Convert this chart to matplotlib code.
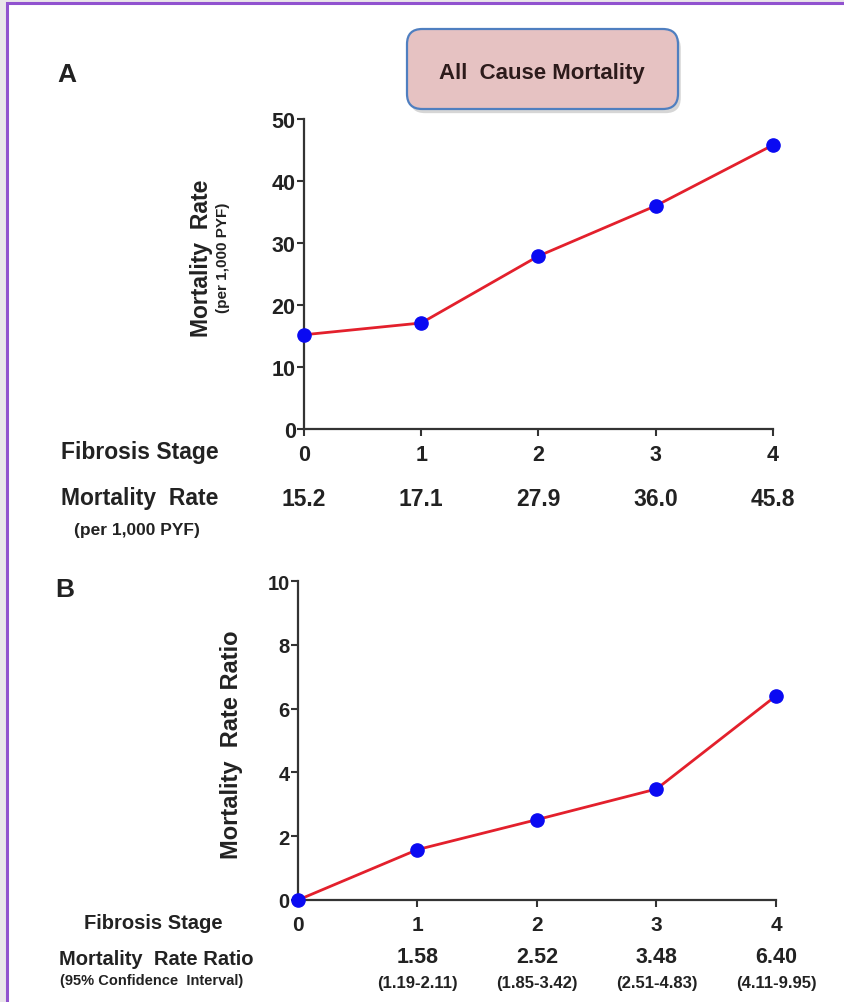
import matplotlib
matplotlib.use("Agg")
import matplotlib.pyplot as plt
import matplotlib.transforms as mtransforms
from matplotlib import font_manager
from matplotlib.patches import FancyBboxPatch, Rectangle
import matplotlib.patheffects as pe

# ---- data -------------------------------------------------------------
stages = [0, 1, 2, 3, 4]
mortality_rate = [15.2, 17.1, 27.9, 36.0, 45.8]          # per 1,000 PYF
rate_ratio = [0.0, 1.58, 2.52, 3.48, 6.40]               # vs. stage 0
ratio_ci = ["", "(1.19-2.11)", "(1.85-3.42)", "(2.51-4.83)", "(4.11-9.95)"]
rate_yticks = [0, 10, 20, 30, 40, 50]
ratio_yticks = [0, 2, 4, 6, 8, 10]

# ---- style ------------------------------------------------------------
names = {f.name for f in font_manager.fontManager.ttflist}
FONT = "Liberation Sans" if "Liberation Sans" in names else "DejaVu Sans"
plt.rcParams["font.family"] = [FONT, "DejaVu Sans"]
plt.rcParams["font.weight"] = "bold"

W, H = 845, 1003
TXT = "#222222"
LINE_RED = "#e3202c"
DOT_BLUE = "#0a0af2"
SPINE = "#333333"


def fx(px):
    return px / W


def fy(py):
    return 1 - py / H


fig = plt.figure(figsize=(W / 100, H / 100), dpi=100)
fig.patch.set_facecolor("#e9e5ea")

# white page with a purple frame (kept behind the axes)
page = Rectangle((fx(7.5), -0.02), 1.05, fy(4) + 0.02, transform=fig.transFigure,
                 facecolor="white", edgecolor="#9152cf", linewidth=2.2, zorder=-10)
fig.patches.append(page)


def style_axes(ax, xsize, ysize):
    for side in ("top", "right"):
        ax.spines[side].set_visible(False)
    for side in ("left", "bottom"):
        ax.spines[side].set_color(SPINE)
        ax.spines[side].set_linewidth(1.6)
    ax.tick_params(axis="both", direction="out", length=5, width=1.5, color=SPINE)
    ax.tick_params(axis="x", labelsize=xsize, pad=6, labelcolor=TXT)
    ax.tick_params(axis="y", labelsize=ysize, pad=1, labelcolor=TXT)
    ax.set_facecolor("none")
    for lab in ax.get_xticklabels() + ax.get_yticklabels():
        lab.set_fontweight("bold")


def draw_series(ax, xs, ys):
    ax.plot(xs, ys, color=LINE_RED, linewidth=2.0, zorder=3, clip_on=False)
    ax.plot(xs, ys, linestyle="none", marker="o", markersize=9.5,
            markerfacecolor=DOT_BLUE, markeredgecolor=DOT_BLUE, zorder=4, clip_on=False)


# ---- panel A: mortality rate -----------------------------------------
axA = fig.add_axes([fx(304), fy(430), fx(773) - fx(304), fy(120) - fy(430)])
draw_series(axA, stages, mortality_rate)
axA.set_xlim(stages[0], stages[-1])
axA.set_ylim(rate_yticks[0], rate_yticks[-1])
axA.set_xticks(stages)
axA.set_yticks(rate_yticks)
style_axes(axA, 15.5, 15.5)

fig.text(fx(202), fy(258), "Mortality  Rate", rotation=90, ha="center", va="center",
         fontsize=16.5, fontweight="bold", color=TXT)
fig.text(fx(223), fy(258), "(per 1,000 PYF)", rotation=90, ha="center", va="center",
         fontsize=11, fontweight="bold", color=TXT)

fig.text(fx(67), fy(75), "A", ha="center", va="center", fontsize=19, fontweight="bold", color=TXT)

fig.text(fx(140), fy(453), "Fibrosis Stage", ha="center", va="center",
         fontsize=16.5, fontweight="bold", color=TXT)
fig.text(fx(140), fy(499), "Mortality  Rate", ha="center", va="center",
         fontsize=16.5, fontweight="bold", color=TXT)
fig.text(fx(137), fy(530), "(per 1,000 PYF)", ha="center", va="center",
         fontsize=12.5, fontweight="bold", color=TXT)

blendA = mtransforms.blended_transform_factory(axA.transData, fig.transFigure)
for s, v in zip(stages, mortality_rate):
    axA.text(s, fy(500), f"{v:.1f}", transform=blendA, ha="center", va="center",
             fontsize=16.5, fontweight="bold", color=TXT)

# title box
box = FancyBboxPatch((fx(407), fy(110)), fx(678) - fx(407), fy(30) - fy(110),
                     boxstyle="round,pad=0,rounding_size=0.018", transform=fig.transFigure,
                     facecolor="#e6c2c2", edgecolor="#4f7fc0", linewidth=1.6, zorder=5,
                     mutation_aspect=W / H)
box.set_path_effects([pe.SimplePatchShadow(offset=(2, -3), shadow_rgbFace="#9a9a9a", alpha=0.4),
                      pe.Normal()])
fig.patches.append(box)
fig.text(fx(542), fy(73), "All  Cause Mortality", ha="center", va="center",
         fontsize=16, fontweight="bold", color="#2d1b1b", zorder=6)

# ---- panel B: mortality rate ratio -----------------------------------
axB = fig.add_axes([fx(298), fy(901), fx(776) - fx(298), fy(582) - fy(901)])
draw_series(axB, stages, rate_ratio)
axB.set_xlim(stages[0], stages[-1])
axB.set_ylim(ratio_yticks[0], ratio_yticks[-1])
axB.set_xticks(stages)
axB.set_yticks(ratio_yticks)
style_axes(axB, 15, 14.5)

fig.text(fx(232), fy(745), "Mortality  Rate Ratio", rotation=90, ha="center", va="center",
         fontsize=17, fontweight="bold", color=TXT)
fig.text(fx(65), fy(590), "B", ha="center", va="center", fontsize=19, fontweight="bold", color=TXT)

fig.text(fx(153), fy(924), "Fibrosis Stage", ha="center", va="center",
         fontsize=14.5, fontweight="bold", color=TXT)
fig.text(fx(156), fy(960), "Mortality  Rate Ratio", ha="center", va="center",
         fontsize=14.5, fontweight="bold", color=TXT)
fig.text(fx(152), fy(981), "(95% Confidence  Interval)", ha="center", va="center",
         fontsize=10.5, fontweight="bold", color=TXT)

blendB = mtransforms.blended_transform_factory(axB.transData, fig.transFigure)
for s, v, ci in zip(stages, rate_ratio, ratio_ci):
    if not ci:
        continue
    axB.text(s, fy(958), f"{v:.2f}", transform=blendB, ha="center", va="center",
             fontsize=15.5, fontweight="bold", color=TXT)
    axB.text(s, fy(984), ci, transform=blendB, ha="center", va="center",
             fontsize=12, fontweight="bold", color=TXT)

fig.savefig("out.png", dpi=100, facecolor=fig.get_facecolor())
